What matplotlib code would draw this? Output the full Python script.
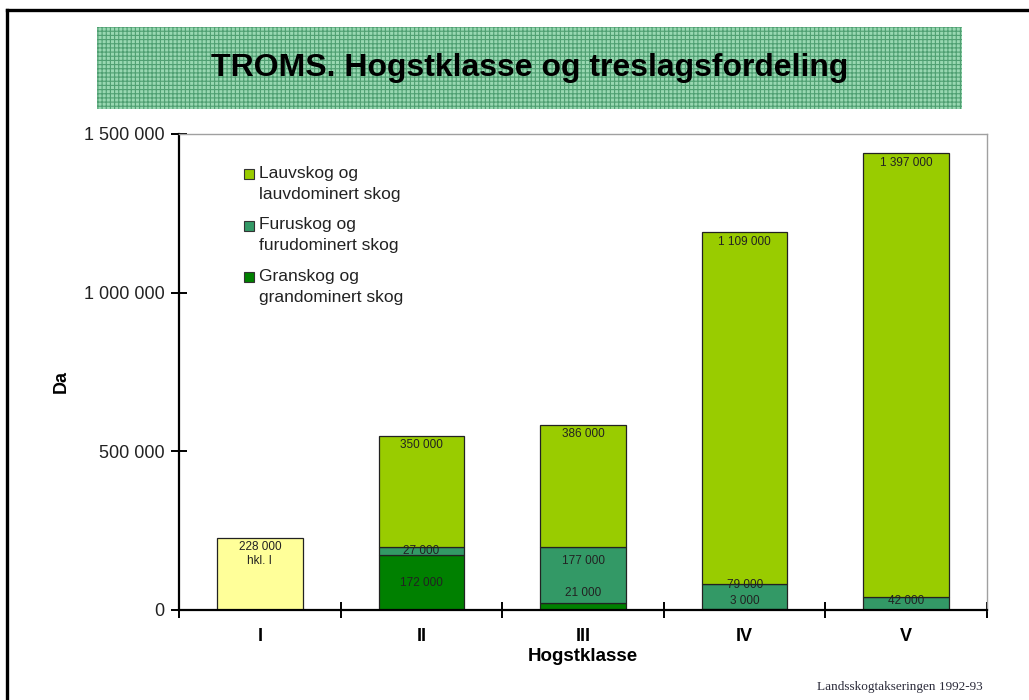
import matplotlib

matplotlib.use("Agg")
import matplotlib.pyplot as plt
import numpy as np
from matplotlib.lines import Line2D
from matplotlib.patches import Rectangle
from matplotlib.ticker import FuncFormatter

plt.rcParams["font.family"] = ["Liberation Sans", "DejaVu Sans"]
plt.rcParams["hatch.linewidth"] = 0.8

# Hogstklasse (cutting class) and area per tree species group, in decare.
classes = ["I", "II", "III", "IV", "V"]
hkl1 = [228000, 0, 0, 0, 0]
gran = [0, 172000, 21000, 3000, 0]
furu = [0, 27000, 177000, 79000, 42000]
lauv = [0, 350000, 386000, 1109000, 1397000]

legend_names = ["Lauvskog og\nlauvdominert skog",
                "Furuskog og\nfurudominert skog",
                "Granskog og\ngrandominert skog"]
colors = {"lauv": "#99cc00", "furu": "#339966", "gran": "#008000", "hkl1": "#ffff99"}

# where the small value labels sit (data units)
gran_label_y = [None, 86000, 53000, 28000, None]
furu_label_y = [None, 185500, 154000, 79000, 28000]


def thousands(v, pos=None):
    return "{:,.0f}".format(v).replace(",", " ")


fig = plt.figure(figsize=(10.29, 7.0), dpi=100)

# slide frame and title banner
fig.add_artist(Line2D([0.0068, 0.0068], [0.0, 0.986], color="black", lw=2.4))
fig.add_artist(Line2D([0.0068, 1.0], [0.986, 0.986], color="black", lw=2.4))
fig.add_artist(Rectangle((0.0943, 0.8443), 0.8406, 0.117, facecolor="#99d8b2",
                         edgecolor="#4f9f72", hatch="++++", lw=0))
fig.text(0.515, 0.903, "TROMS. Hogstklasse og treslagsfordeling", ha="center",
         va="center", fontsize=23, fontweight="bold", color="black")

ax = fig.add_axes([0.174, 0.1286, 0.7852, 0.68])
x = np.arange(len(classes))
width = 0.53
edge = dict(edgecolor="#222222", linewidth=0.9)

ax.bar(x, hkl1, width, color=colors["hkl1"], **edge)
ax.bar(x, gran, width, color=colors["gran"], **edge)
bottom = np.array(gran)
ax.bar(x, furu, width, bottom=bottom, color=colors["furu"], **edge)
bottom = bottom + np.array(furu)
ax.bar(x, lauv, width, bottom=bottom, color=colors["lauv"], **edge)
tops = bottom + np.array(lauv)

lab = dict(ha="center", va="center", fontsize=8.5, color="#222222")
for i in range(len(classes)):
    if hkl1[i]:
        ax.annotate(thousands(hkl1[i]), (x[i], hkl1[i]), xytext=(0, -7),
                    textcoords="offset points", **lab)
        ax.annotate("hkl. I", (x[i], hkl1[i]), xytext=(0, -17),
                    textcoords="offset points", **lab)
    if lauv[i]:
        ax.annotate(thousands(lauv[i]), (x[i], tops[i]), xytext=(0, -7),
                    textcoords="offset points", **lab)
    if furu[i]:
        ax.text(x[i], furu_label_y[i], thousands(furu[i]), **lab)
    if gran[i]:
        ax.text(x[i], gran_label_y[i], thousands(gran[i]), **lab)

ax.set_xlim(-0.5, len(classes) - 0.5)
ax.set_ylim(0, 1500000)
ax.set_yticks([0, 500000, 1000000, 1500000])
ax.yaxis.set_major_formatter(FuncFormatter(thousands))
ax.tick_params(axis="y", direction="inout", length=11, width=1.4, labelsize=13,
               labelcolor="#222222", pad=5)
ax.set_xticks(x)
ax.set_xticklabels(classes, fontsize=13, fontweight="bold")
ax.set_xticks(np.arange(len(classes) + 1) - 0.5, minor=True)
ax.tick_params(axis="x", which="major", length=0, pad=13)
ax.tick_params(axis="x", which="minor", direction="inout", length=11, width=1.4)

for s in ["left", "bottom"]:
    ax.spines[s].set_linewidth(1.6)
for s in ["top", "right"]:
    ax.spines[s].set_color("#a0a0a0")
    ax.spines[s].set_linewidth(1.0)

ax.set_xlabel("Hogstklasse", fontsize=13.5, fontweight="bold", labelpad=2)
ax.set_ylabel("Da", fontsize=13, fontweight="bold")
ax.yaxis.set_label_coords(-0.135, 0.48)

# legend drawn by hand so the swatch sits on the first text line
for k, (name, key) in enumerate(zip(legend_names, ["lauv", "furu", "gran"])):
    y0 = 0.916 - k * 0.108
    ax.add_patch(Rectangle((0.081, y0 - 0.011), 0.012, 0.021, transform=ax.transAxes,
                           facecolor=colors[key], edgecolor="#333333", lw=0.8))
    ax.text(0.099, y0 + 0.017, name, transform=ax.transAxes, ha="left", va="top",
            fontsize=12.5, color="#222222", linespacing=1.5)

fig.text(0.955, 0.018, "Landsskogtakseringen 1992-93", ha="right", va="center",
         fontsize=9.5, family=["Liberation Serif", "DejaVu Serif"], color="#2b2b3a")

fig.savefig("out.png", dpi=100)
